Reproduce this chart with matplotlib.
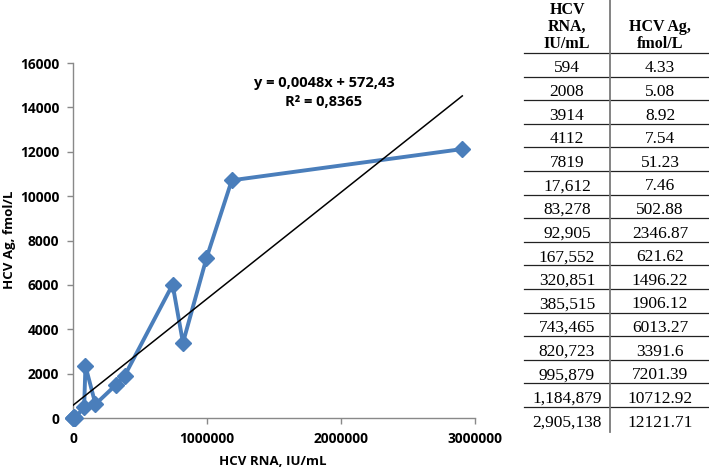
import matplotlib
matplotlib.use("Agg")
import matplotlib.pyplot as plt
import numpy as np
from matplotlib.lines import Line2D
from matplotlib.ticker import FuncFormatter

rna = [594, 2008, 3914, 4112, 7819, 17612, 83278, 92905, 167552, 320851,
       385515, 743465, 820723, 995879, 1184879, 2905138]
ag = [4.33, 5.08, 8.92, 7.54, 51.23, 7.46, 502.88, 2346.87, 621.62, 1496.22,
      1906.12, 6013.27, 3391.6, 7201.39, 10712.92, 12121.71]
rna_labels = ["594", "2008", "3914", "4112", "7819", "17,612", "83,278", "92,905",
              "167,552", "320,851", "385,515", "743,465", "820,723", "995,879",
              "1,184,879", "2,905,138"]
ag_labels = ["4.33", "5.08", "8.92", "7.54", "51.23", "7.46", "502.88", "2346.87",
             "621.62", "1496.22", "1906.12", "6013.27", "3391.6", "7201.39",
             "10712.92", "12121.71"]
slope, intercept = 0.0048, 572.43
eq_text = "y = 0,0048x + 572,43"
r2_text = "R² = 0,8365"
x_ticks = [0, 1000000, 2000000, 3000000]
y_ticks = [0, 2000, 4000, 6000, 8000, 10000, 12000, 14000, 16000]

W, H = 709, 469
fig = plt.figure(figsize=(W / 100, H / 100), dpi=100)
fig.patch.set_facecolor("white")

sans = "Open Sans"
ax = fig.add_axes([73 / W, 1 - 418 / H, (475 - 73) / W, (418 - 63) / H])
blue = "#4A7EBB"
ax.plot(rna, ag, color=blue, lw=2.8, marker="D", ms=8.5, mfc=blue, mec=blue,
        zorder=3, clip_on=False)
xs = np.array([0, rna[-1]])
ax.plot(xs, slope * xs + intercept, color="black", lw=1.1, zorder=4)

ax.set_xlim(0, 3000000)
ax.set_ylim(0, 16000)
ax.set_xticks(x_ticks)
ax.set_yticks(y_ticks)
ax.xaxis.set_major_formatter(FuncFormatter(lambda v, p: f"{int(v)}"))
ax.yaxis.set_major_formatter(FuncFormatter(lambda v, p: f"{int(v)}"))
for s in ["top", "right"]:
    ax.spines[s].set_visible(False)
for s in ["left", "bottom"]:
    ax.spines[s].set_color("#898989")
    ax.spines[s].set_linewidth(1.0)
ax.tick_params(axis="both", direction="out", length=4, width=1.0, color="#898989",
               labelsize=9.9)
ax.tick_params(axis="y", pad=6)
ax.tick_params(axis="x", pad=6)
for lab in ax.get_xticklabels() + ax.get_yticklabels():
    lab.set_fontfamily(sans)
    lab.set_fontweight("bold")

fig.text(10 / W, 1 - 240 / H, "HCV Ag, fmol/L", rotation=90, ha="center", va="center",
         fontsize=9.5, fontweight="bold", family=sans)
fig.text(273 / W, 1 - 461 / H, "HCV RNA, IU/mL", ha="center", va="center",
         fontsize=9.5, fontweight="bold", family=sans)
fig.text(324 / W, 1 - 83 / H, eq_text, ha="center", va="center",
         fontsize=10.5, fontweight="bold", family=sans)
fig.text(324 / W, 1 - 102 / H, r2_text, ha="center", va="center",
         fontsize=10.5, fontweight="bold", family=sans)

# Table
serif = "Liberation Serif"
c1, c2 = 567, 660
hs = 11.5
fig.text(c1 / W, 1 - 10 / H, "HCV", ha="center", va="center", fontsize=hs,
         fontweight="bold", family=serif)
fig.text(c1 / W, 1 - 27 / H, "RNA,", ha="center", va="center", fontsize=hs,
         fontweight="bold", family=serif)
fig.text(c1 / W, 1 - 44 / H, "IU/mL", ha="center", va="center", fontsize=hs,
         fontweight="bold", family=serif)
fig.text(c2 / W, 1 - 27 / H, "HCV Ag,", ha="center", va="center", fontsize=hs,
         fontweight="bold", family=serif)
fig.text(c2 / W, 1 - 44 / H, "fmol/L", ha="center", va="center", fontsize=hs,
         fontweight="bold", family=serif)

top_line = 53.0
row_h = 23.6
for k in range(len(rna_labels)):
    y_line = top_line + k * row_h
    fig.add_artist(Line2D([524 / W, 1.0], [1 - y_line / H, 1 - y_line / H],
                          color="#222222", lw=0.9, transform=fig.transFigure))
    yc = y_line + 15.5
    fig.text(c1 / W, 1 - yc / H, rna_labels[k], ha="center", va="center",
             fontsize=12.5, family=serif)
    fig.text(c2 / W, 1 - yc / H, ag_labels[k], ha="center", va="center",
             fontsize=12.5, family=serif)
fig.add_artist(Line2D([610 / W, 610 / W], [1.0, 1 - 432 / H], color="#7a7a7a",
                      lw=1.3, transform=fig.transFigure))

fig.savefig("out.png", dpi=100, facecolor="white")
